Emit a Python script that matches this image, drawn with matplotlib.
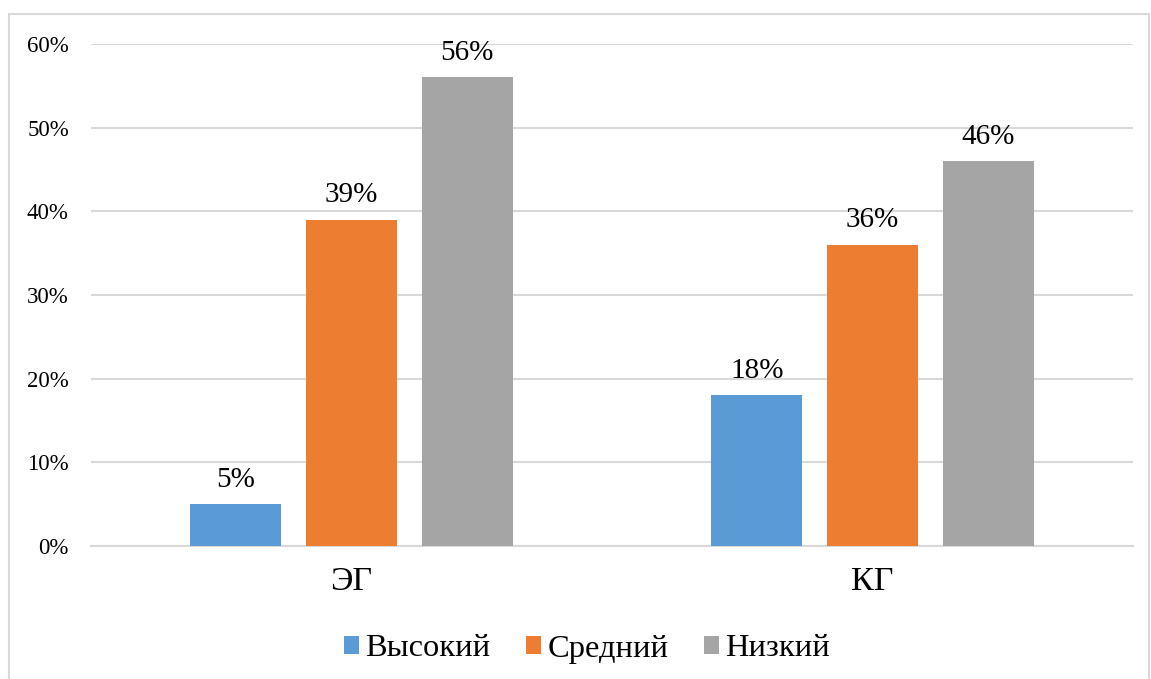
import matplotlib
matplotlib.use('Agg')
import matplotlib.pyplot as plt
from matplotlib.patches import Rectangle
import numpy as np

# данные
groups = ['ЭГ', 'КГ']
series_names = ['Высокий', 'Средний', 'Низкий']
vysokiy = [5, 18]
sredniy = [39, 36]
nizkiy = [56, 46]
colors = ['#5B9BD5', '#ED7D31', '#A5A5A5']

plt.rcParams['font.family'] = ['Liberation Serif', 'DejaVu Serif']

fig = plt.figure(figsize=(11.51, 6.79), dpi=100)
ax = fig.add_axes([0.0791, 0.1959, 0.9053, 0.7393])

# рамка диаграммы
fig.patches.append(Rectangle((9 / 1151, -0.05), 1140 / 1151, 1.05 - 14 / 679,
                             transform=fig.transFigure, fill=False,
                             edgecolor='#d9d9d9', linewidth=1.5))

x = np.arange(len(groups))
width = 0.175
step = 0.222
values = [vysokiy, sredniy, nizkiy]

for i, (name, vals) in enumerate(zip(series_names, values)):
    pos = x + (i - 1) * step
    bars = ax.bar(pos, vals, width, color=colors[i], label=name, zorder=3)
    for b, v in zip(bars, vals):
        ax.text(b.get_x() + b.get_width() / 2, v + 1.35, f'{v}%',
                ha='center', va='bottom', fontsize=21)

ax.set_xlim(-0.5, 1.5)
ax.set_ylim(0, 60)
ax.set_yticks(np.arange(0, 61, 10))
ax.set_yticklabels([f'{t}%' for t in range(0, 61, 10)], fontsize=16.5)
ax.set_xticks(x)
ax.set_xticklabels(groups, fontsize=24.5)
ax.tick_params(axis='both', length=0)
ax.tick_params(axis='y', pad=16)
ax.tick_params(axis='x', pad=15)
ax.yaxis.grid(True, color='#d9d9d9', linewidth=1.5, zorder=0)
for s in ['top', 'right', 'left']:
    ax.spines[s].set_visible(False)
ax.spines['bottom'].set_color('#d9d9d9')
ax.spines['bottom'].set_linewidth(1.5)

fig.legend(loc='center', bbox_to_anchor=(587 / 1151, 1 - 649 / 679), ncol=3,
           frameon=False, fontsize=23.4, handlelength=0.46, handleheight=0.46,
           handletextpad=0.2, columnspacing=1.1)

fig.savefig('out.png', dpi=100)
